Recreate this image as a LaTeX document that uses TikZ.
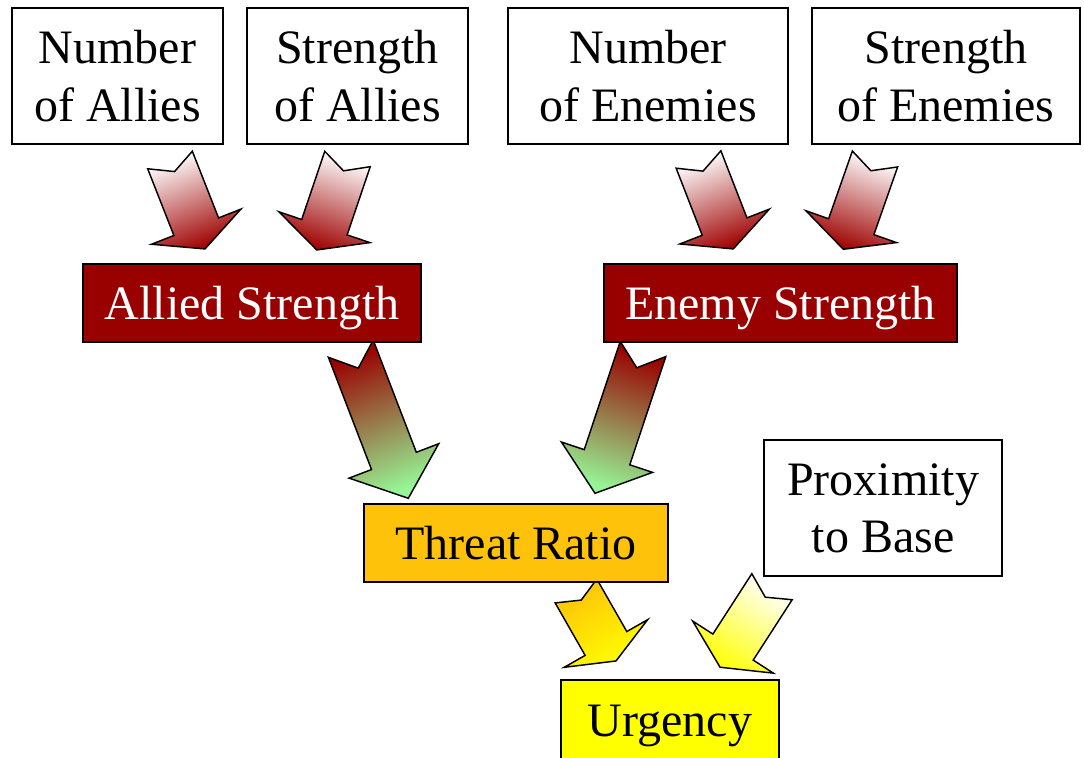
\documentclass[tikz,border=0pt]{standalone}
\usepackage{fontspec}
\setmainfont{Liberation Serif}
\usetikzlibrary{calc}

\definecolor{boxred}{HTML}{990000}
\definecolor{arrowred}{HTML}{9E0000}
\definecolor{ratioorange}{HTML}{FFC20A}
\definecolor{urgentyellow}{HTML}{FFFF00}
\definecolor{lightgreen}{HTML}{96F596}

% Notched block arrow from tail centre #1 to tip #2, shaded from #3 (tail) to #4 (tip)
\newcommand\blockarrow[4]{%
  \path let \p1=($(#2)-(#1)$) in \pgfextra{%
    \pgfmathsetmacro\baang{atan2(\y1,\x1)}%
    \pgfmathsetmacro\balen{veclen(\x1,\y1)}%
    \pgfmathsetmacro\bashade{\baang+90}%
    \global\let\BAang\baang \global\let\BAlen\balen \global\let\BAshade\bashade};
  \begin{scope}[shift={(#1)}, rotate=\BAang]
    \shade[arrowline, left color=#3, right color=#4, shading angle=\BAshade]
      (0pt,18pt) -- ({0.75*\BAlen pt},18pt) -- ({0.75*\BAlen pt},36pt)
      -- (\BAlen pt,0pt) -- ({0.75*\BAlen pt},-36pt) -- ({0.75*\BAlen pt},-18pt)
      -- (0pt,-18pt) -- ({0.13*\BAlen pt},0pt) -- cycle;
  \end{scope}}

\tikzset{
  arrowline/.style={draw=black, line width=1.1pt, line join=miter},
  factor/.style={draw=black, line width=1.1pt, fill=white, align=center,
    inner sep=0pt, font=\fontsize{36pt}{43pt}\selectfont},
  % single-line labels: baseline placed as for the font's full line height
  oneline/.style={text height=32.1pt, text depth=7.8pt},
}

\begin{document}
\begin{tikzpicture}[x=0.75pt, y=-0.75pt]
\useasboundingbox (0,0) rectangle (1084,757);
\clip (0,0) rectangle (1084,757);

% arrow end points (tail centre / tip)
\coordinate (a1s) at (170,160);   \coordinate (a1e) at (205,249);
\coordinate (a2s) at (347.5,159); \coordinate (a2e) at (316.7,250);
\coordinate (a3s) at (698.5,159.5); \coordinate (a3e) at (733.3,249);
\coordinate (a4s) at (875,159);   \coordinate (a4e) at (843.3,249.3);
\coordinate (a5s) at (350.8,348.7); \coordinate (a5e) at (408.3,498.3);
\coordinate (a6s) at (643,349);   \coordinate (a6e) at (595,493.3);
\coordinate (a7s) at (576,591);   \coordinate (a7e) at (616,661);
\coordinate (a8s) at (772,586.7); \coordinate (a8e) at (720,667.3);

\blockarrow{a1s}{a1e}{white}{arrowred}
\blockarrow{a2s}{a2e}{white}{arrowred}
\blockarrow{a3s}{a3e}{white}{arrowred}
\blockarrow{a4s}{a4e}{white}{arrowred}
\blockarrow{a5s}{a5e}{boxred}{lightgreen}
\blockarrow{a6s}{a6e}{boxred}{lightgreen}
\blockarrow{a7s}{a7e}{ratioorange}{urgentyellow}
\blockarrow{a8s}{a8e}{white}{urgentyellow}

% factor boxes
\node[factor, minimum width=211*0.75pt, minimum height=136*0.75pt]
  (numallies) at (117.5,76) {Number\\of Allies};
\node[factor, minimum width=221*0.75pt, minimum height=136*0.75pt]
  (strallies) at (357.5,76) {Strength\\of Allies};
\node[factor, minimum width=280*0.75pt, minimum height=136*0.75pt]
  (numenemies) at (648,76) {Number\\of Enemies};
\node[factor, minimum width=268*0.75pt, minimum height=136*0.75pt]
  (strenemies) at (946,76) {Strength\\of Enemies};
\node[factor, oneline, fill=boxred, text=white, minimum width=338*0.75pt, minimum height=78*0.75pt]
  (allied) at (252,303) {Allied Strength};
\node[factor, oneline, fill=boxred, text=white, minimum width=353*0.75pt, minimum height=78*0.75pt]
  (enemy) at (780.5,303) {Enemy Strength};
\node[factor, oneline, fill=ratioorange, minimum width=304*0.75pt, minimum height=78*0.75pt]
  (threat) at (516,543) {Threat Ratio};
\node[factor, minimum width=238*0.75pt, minimum height=136*0.75pt]
  (proximity) at (883,508) {Proximity\\to Base};
\node[factor, oneline, fill=urgentyellow, minimum width=218*0.75pt, minimum height=80*0.75pt]
  (urgency) at (670,720) {Urgency};
\end{tikzpicture}
\end{document}
